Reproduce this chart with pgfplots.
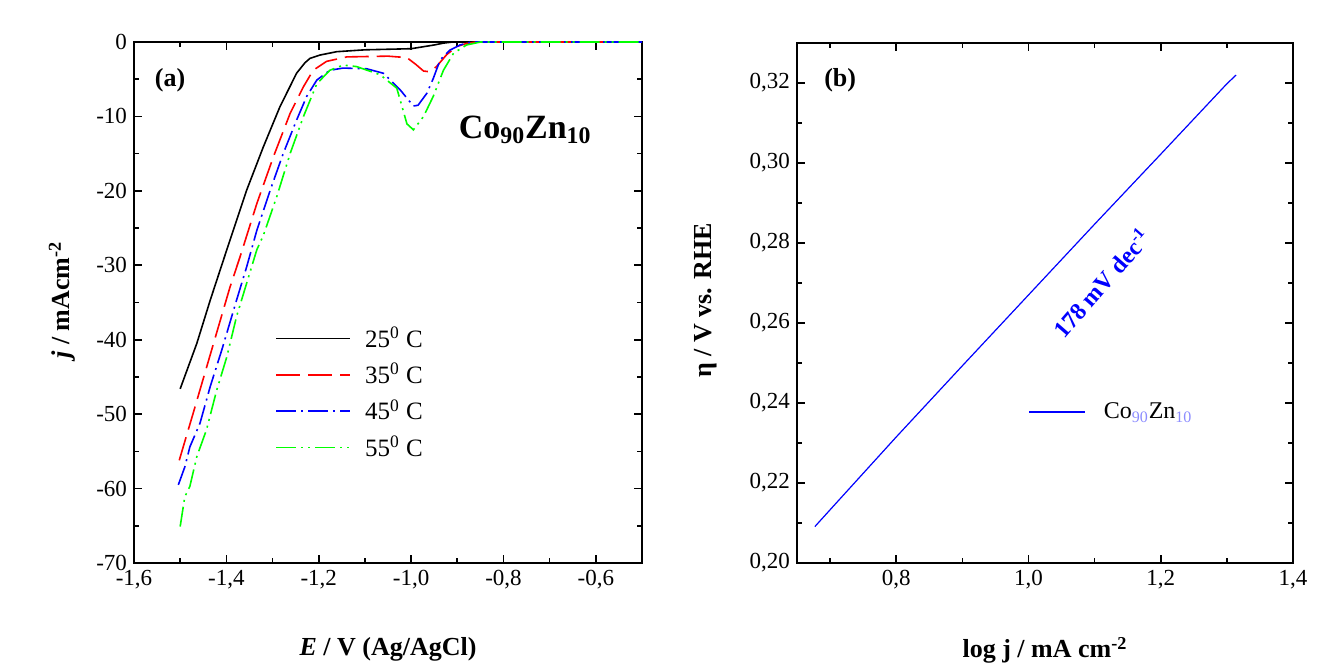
\documentclass[border=0pt]{standalone}
\usepackage{pgfplots}
\pgfplotsset{compat=1.18}
\usepackage{fontspec}
\setmainfont{Liberation Serif}

\pgfplotsset{
  panel/.style={
    scale only axis,
    axis line style={line width=0.9pt},
    every tick/.style={black, line width=0.8pt},
    major tick length=4pt,
    minor tick length=2.5pt,
    tick align=inside,
    tick label style={font=\fontsize{11.5}{13}\selectfont},
    /pgf/number format/assume math mode=true,
    /pgf/number format/use comma,
    label style={font=\fontsize{13}{15}\selectfont\bfseries},
    clip=false,
  },
}

\begin{document}
\begin{tikzpicture}
\useasboundingbox (-67pt,-50pt) rectangle (595.5pt,281.5pt);

% (a) polarisation curves
\begin{axis}[panel,
  at={(0pt,0pt)}, anchor=south west,
  width=254pt, height=260.5pt,
  xmin=-1.6, xmax=-0.5, ymin=-70, ymax=0,
  xtick={-1.6,-1.4,-1.2,-1.0,-0.8,-0.6},
  minor x tick num=1,
  ytick={-70,-60,-50,-40,-30,-20,-10,0},
  minor y tick num=1,
  xticklabel style={/pgf/number format/.cd, fixed, fixed zerofill, precision=1, use comma},
  xlabel={\textit{E} / V (Ag/AgCl)},
  ylabel={\textit{j} / mAcm\textsuperscript{-2}},
  xlabel style={at={(axis description cs:0.5,-0.165)}, anchor=center},
  ylabel style={at={(axis description cs:-0.142,0.505)}, anchor=center},
  legend style={at={(axis description cs:0.278,0.462)}, anchor=north west,
    draw=none, fill=none, font=\fontsize{12.5}{14}\selectfont,
    row sep=2.5pt, inner sep=0pt,
    /tikz/every odd column/.append style={column sep=5pt}},
  legend cell align=left,
  legend image code/.code={\draw[#1] (0pt,0pt) -- (37pt,0pt);},
]
\addplot[black, line width=0.8pt] coordinates {
(-1.500,-46.6) (-1.464,-40.5) (-1.435,-34.7) (-1.399,-27.9) (-1.356,-19.9)
(-1.320,-14.1) (-1.284,-8.7) (-1.248,-4.2) (-1.230,-2.8) (-1.219,-2.2)
(-1.197,-1.75) (-1.161,-1.3) (-1.100,-1.05) (-1.000,-0.9) (-0.950,-0.4)
(-0.930,-0.15) (-0.910,0) (-0.500,0)};
\addlegendentry{25\textsuperscript{0} C}
\addplot[red, line width=0.8pt, dash pattern=on 12pt off 4pt] coordinates {
(-1.502,-56.2) (-1.472,-49.9) (-1.432,-41.4) (-1.392,-32.9) (-1.370,-28.8)
(-1.334,-21.7) (-1.298,-15.4) (-1.262,-9.6) (-1.233,-6.0) (-1.212,-3.8)
(-1.183,-2.6) (-1.139,-2.0) (-1.050,-1.9) (-1.009,-2.1) (-0.990,-3.0)
(-0.973,-3.9) (-0.960,-4.0) (-0.945,-3.3) (-0.923,-1.7) (-0.901,-0.6)
(-0.880,-0.2) (-0.860,0) (-0.500,0)};
\addlegendentry{35\textsuperscript{0} C}
\addplot[blue, line width=0.8pt, dash pattern=on 10pt off 2.5pt on 1pt off 2.5pt] coordinates {
(-1.504,-59.5) (-1.490,-57.1) (-1.479,-54.4) (-1.457,-51.2) (-1.435,-46.3)
(-1.410,-41.4) (-1.378,-34.7) (-1.356,-30.2) (-1.334,-25.3) (-1.305,-19.9)
(-1.277,-15.0) (-1.248,-10.5) (-1.226,-7.3) (-1.204,-5.1) (-1.176,-3.8)
(-1.147,-3.5) (-1.096,-3.6) (-1.060,-4.2) (-1.024,-6.4) (-0.995,-8.6)
(-0.985,-8.5) (-0.966,-6.9) (-0.952,-4.9) (-0.937,-2.4) (-0.916,-1.1)
(-0.894,-0.4) (-0.870,0) (-0.500,0)};
\addlegendentry{45\textsuperscript{0} C}
\addplot[green, line width=0.8pt, dash pattern=on 10pt off 2.5pt on 1pt off 2.5pt on 1pt off 2.5pt] coordinates {
(-1.500,-65.1) (-1.490,-61.1) (-1.479,-59.7) (-1.464,-55.7) (-1.443,-52.1)
(-1.421,-46.8) (-1.399,-42.3) (-1.378,-36.9) (-1.356,-32.4) (-1.334,-27.9)
(-1.320,-26.0) (-1.291,-20.8) (-1.262,-15.0) (-1.233,-10.0) (-1.204,-5.6)
(-1.176,-3.8) (-1.147,-3.1) (-1.118,-3.3) (-1.067,-4.4) (-1.031,-6.2)
(-1.009,-11.0) (-0.995,-11.8) (-0.973,-10.0) (-0.952,-7.3) (-0.930,-3.8)
(-0.908,-1.5) (-0.880,-0.4) (-0.850,0) (-0.500,0)};
\addlegendentry{55\textsuperscript{0} C}
\node[font=\fontsize{13}{15}\selectfont\bfseries] at (axis description cs:0.071,0.927) {(a)};
\node[font=\fontsize{17}{19}\selectfont\bfseries] at (axis description cs:0.770,0.831) {Co\textsubscript{90}Zn\textsubscript{10}};
\end{axis}

% (b) Tafel plot
\begin{axis}[panel,
  at={(331.5pt,0pt)}, anchor=south west,
  width=248pt, height=260pt,
  xmin=0.65, xmax=1.4, ymin=0.20, ymax=0.33,
  xtick={0.8,1.0,1.2,1.4},
  minor xtick={0.7,0.9,1.1,1.3},
  ytick={0.20,0.22,0.24,0.26,0.28,0.30,0.32},
  minor ytick={0.21,0.23,0.25,0.27,0.29,0.31,0.33},
  xticklabel style={/pgf/number format/.cd, fixed, fixed zerofill, precision=1, use comma},
  yticklabel style={/pgf/number format/.cd, fixed, fixed zerofill, precision=2, use comma},
  xlabel={log j / mA cm\textsuperscript{-2}},
  ylabel={η / V vs. RHE},
  xlabel style={at={(axis description cs:0.5,-0.168)}, anchor=center},
  ylabel style={at={(axis description cs:-0.185,0.505)}, anchor=center},
  legend style={at={(axis description cs:0.466,0.317)}, anchor=north west,
    draw=none, fill=none, font=\fontsize{12}{14}\selectfont, inner sep=0pt,
    /tikz/every odd column/.append style={column sep=7pt}},
  legend image code/.code={\draw[#1] (0pt,0pt) -- (28pt,0pt);},
]
\addplot[blue, line width=0.6pt] coordinates {
(0.677,0.2091) (0.700,0.2133) (0.800,0.2315) (0.900,0.2493) (1.000,0.2670)
(1.100,0.2847) (1.200,0.3022) (1.300,0.3198) (1.314,0.3220)};
\addlegendentry{Co\textcolor{blue!45}{\textsubscript{90}}Zn\textcolor{blue!45}{\textsubscript{10}}}
\node[blue, rotate=49, font=\fontsize{12}{14}\selectfont\bfseries] at (axis cs:1.110,0.270) {178 mV dec\textsuperscript{-1}};
\node[font=\fontsize{13}{15}\selectfont\bfseries] at (axis description cs:0.087,0.929) {(b)};
\end{axis}
\end{tikzpicture}
\end{document}
